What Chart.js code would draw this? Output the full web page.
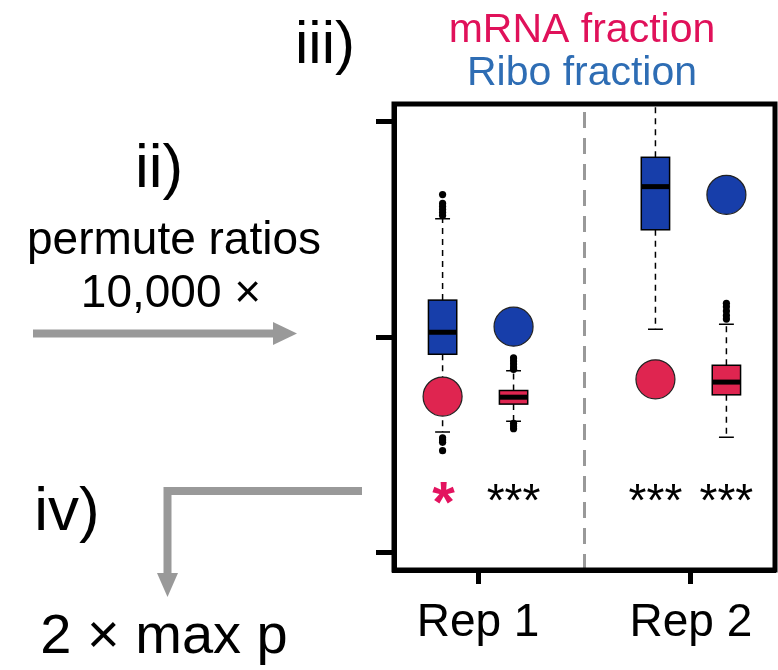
<!DOCTYPE html>
<html>
<head>
<meta charset="utf-8">
<script src="https://cdn.jsdelivr.net/npm/chart.js@4/dist/chart.umd.min.js"></script>
<style>
  html, body { margin: 0; padding: 0; background: #fff; }
  #wrap { width: 778px; height: 670px; }
</style>
</head>
<body>
<div id="wrap"><canvas id="c" width="778" height="670"></canvas></div>
<script>
// Replicates along the x axis
const reps = ['Rep 1', 'Rep 2'];
// Unlabelled y tick positions
const yTicks = [-1, 0, 1];

// Permutation (null) distributions: [lower whisker, Q1, median, Q3, upper whisker]
const riboNull = [[-0.44, -0.08, 0.022, 0.171, 0.548], [0.036, 0.497, 0.697, 0.833, 1.15]];
const mrnaNull = [[-0.391, -0.311, -0.279, -0.248, -0.157], [-0.465, -0.268, -0.209, -0.131, 0.059]];
const riboOutliers = [[0.563, 0.577, 0.591, 0.605, 0.619, 0.66, -0.467, -0.478, -0.488, -0.527], []];
const mrnaOutliers = [[-0.097, -0.111, -0.125, -0.139, -0.15, -0.40, -0.413, -0.425], [0.083, 0.1, 0.12, 0.14, 0.156]];

// Observed ratios
const mrnaObserved = [-0.276, -0.196];
const riboObserved = [0.048, 0.659];

// Significance marks, left slot then right slot per replicate
const stars = [['*', '***'], ['***', '***']];

const RED = '#DF2550';
const BLUE = '#173EAA';
const SLOT = 0.1667;
const BOX_W = 0.133;
const CAP_W = 0.07;
const FONT = '"Liberation Sans", Arial, sans-serif';

function drawBox(chart, xc, s, fill) {
  const ctx = chart.ctx, xs = chart.scales.x, ys = chart.scales.y;
  const x0 = xs.getPixelForValue(xc - BOX_W / 2), x1 = xs.getPixelForValue(xc + BOX_W / 2);
  const xm = xs.getPixelForValue(xc);
  const c0 = xs.getPixelForValue(xc - CAP_W / 2), c1 = xs.getPixelForValue(xc + CAP_W / 2);
  const [lo, q1, med, q3, hi] = s.map(v => ys.getPixelForValue(v));
  ctx.save();
  // whiskers
  ctx.strokeStyle = '#000';
  ctx.lineWidth = 1.5;
  ctx.setLineDash([6, 5]);
  ctx.beginPath();
  ctx.moveTo(xm, q3); ctx.lineTo(xm, hi);
  ctx.moveTo(xm, q1); ctx.lineTo(xm, lo);
  ctx.stroke();
  ctx.setLineDash([]);
  ctx.beginPath();
  ctx.moveTo(c0, hi); ctx.lineTo(c1, hi);
  ctx.moveTo(c0, lo); ctx.lineTo(c1, lo);
  ctx.stroke();
  // box
  ctx.fillStyle = fill;
  ctx.fillRect(x0, q3, x1 - x0, q1 - q3);
  ctx.lineWidth = 1.5;
  ctx.strokeRect(x0, q3, x1 - x0, q1 - q3);
  // median
  ctx.lineWidth = 5;
  ctx.beginPath();
  ctx.moveTo(x0, med); ctx.lineTo(x1, med);
  ctx.stroke();
  ctx.restore();
}

const boxPlugin = {
  id: 'boxes',
  beforeDatasetsDraw(chart) {
    const ctx = chart.ctx, a = chart.chartArea, xs = chart.scales.x;
    ctx.save();
    ctx.beginPath();
    ctx.rect(a.left, a.top, a.right - a.left, a.bottom - a.top);
    ctx.clip();
    // replicate divider
    const xd = xs.getPixelForValue(1.5);
    ctx.strokeStyle = '#999';
    ctx.lineWidth = 3;
    ctx.setLineDash([16, 10]);
    ctx.beginPath();
    ctx.moveTo(xd, a.bottom); ctx.lineTo(xd, a.top);
    ctx.stroke();
    ctx.setLineDash([]);
    for (let i = 0; i < reps.length; i++) {
      drawBox(chart, i + 1 - SLOT, riboNull[i], BLUE);
      drawBox(chart, i + 1 + SLOT, mrnaNull[i], RED);
    }
    ctx.restore();
  },
  afterDatasetsDraw(chart) {
    const ctx = chart.ctx, xs = chart.scales.x;
    ctx.save();
    ctx.textAlign = 'center';
    ctx.textBaseline = 'alphabetic';
    for (let i = 0; i < reps.length; i++) {
      stars[i].forEach((st, j) => {
        const x = xs.getPixelForValue(i + 1 + (j === 0 ? -SLOT : SLOT));
        if (st === '*') {
          ctx.fillStyle = '#E3135F';
          ctx.font = 'bold 58px ' + FONT;
          ctx.fillText(st, x + 1, 522);
        } else {
          ctx.fillStyle = '#000';
          ctx.font = '46px ' + FONT;
          ctx.fillText(st, x, 516);
        }
      });
    }
    ctx.restore();
  }
};

const framePlugin = {
  id: 'frame',
  afterDraw(chart) {
    const ctx = chart.ctx, a = chart.chartArea;
    ctx.save();
    ctx.strokeStyle = '#000';
    ctx.lineWidth = 5;
    ctx.lineJoin = 'miter';
    ctx.strokeRect(a.left, a.top, a.right - a.left, a.bottom - a.top);
    ctx.restore();
  }
};

function arrowHeadRight(ctx, x, y, len, half) {
  ctx.beginPath();
  ctx.moveTo(x - len, y - half); ctx.lineTo(x, y); ctx.lineTo(x - len, y + half);
  ctx.closePath(); ctx.fill();
}
function arrowHeadDown(ctx, x, y, len, half) {
  ctx.beginPath();
  ctx.moveTo(x - half, y - len); ctx.lineTo(x, y); ctx.lineTo(x + half, y - len);
  ctx.closePath(); ctx.fill();
}

// Workflow annotations around the plot
const diagramPlugin = {
  id: 'diagram',
  afterDraw(chart) {
    const ctx = chart.ctx;
    ctx.save();
    ctx.textAlign = 'center';
    ctx.textBaseline = 'alphabetic';
    ctx.fillStyle = '#000';
    ctx.font = '60px ' + FONT;
    ctx.fillText('iii)', 325, 63);
    ctx.font = '62px ' + FONT;
    ctx.fillText('ii)', 159, 187);
    ctx.font = '46px ' + FONT;
    ctx.fillText('permute ratios', 174, 254);
    ctx.fillText('10,000 \u00d7', 171, 307);
    ctx.font = '62px ' + FONT;
    ctx.fillText('iv)', 67, 530);
    ctx.font = '56px ' + FONT;
    ctx.fillText('2 \u00d7 max p', 164, 653);
    ctx.font = '41px ' + FONT;
    ctx.fillStyle = '#E0115A';
    ctx.fillText('mRNA fraction', 582, 42);
    ctx.fillStyle = '#2E6DB4';
    ctx.fillText('Ribo fraction', 582, 85);

    // arrows
    ctx.strokeStyle = '#999';
    ctx.fillStyle = '#999';
    ctx.lineWidth = 8;
    ctx.lineCap = 'butt';
    ctx.beginPath();
    ctx.moveTo(33, 333.5); ctx.lineTo(275, 333.5);
    ctx.stroke();
    arrowHeadRight(ctx, 297, 333.5, 24, 11.5);

    ctx.lineJoin = 'miter';
    ctx.beginPath();
    ctx.moveTo(362, 491); ctx.lineTo(167.5, 491); ctx.lineTo(167.5, 575);
    ctx.stroke();
    arrowHeadDown(ctx, 167.5, 597, 24, 10.5);
    ctx.restore();
  }
};

const outlierData = [];
for (let i = 0; i < reps.length; i++) {
  riboOutliers[i].forEach(v => outlierData.push({ x: i + 1 - SLOT, y: v }));
  mrnaOutliers[i].forEach(v => outlierData.push({ x: i + 1 + SLOT, y: v }));
}

new Chart(document.getElementById('c'), {
  type: 'scatter',
  data: {
    datasets: [
      {
        label: 'outliers',
        data: outlierData,
        pointRadius: 3.6,
        pointBackgroundColor: '#000',
        pointBorderWidth: 0
      },
      {
        label: 'mRNA fraction',
        data: mrnaObserved.map((v, i) => ({ x: i + 1 - SLOT, y: v })),
        pointRadius: 19.5,
        pointBackgroundColor: RED,
        pointBorderColor: '#222',
        pointBorderWidth: 1.2
      },
      {
        label: 'Ribo fraction',
        data: riboObserved.map((v, i) => ({ x: i + 1 + SLOT, y: v })),
        pointRadius: 19.5,
        pointBackgroundColor: BLUE,
        pointBorderColor: '#222',
        pointBorderWidth: 1.2
      }
    ]
  },
  options: {
    responsive: false,
    animation: false,
    devicePixelRatio: 1,
    layout: { autoPadding: false, padding: { left: 374, top: 104, right: 3, bottom: 0 } },
    plugins: { legend: { display: false }, tooltip: { enabled: false } },
    scales: {
      x: {
        type: 'linear',
        min: 0.605,
        max: 2.395,
        afterBuildTicks: s => { s.ticks = [{ value: 1 }, { value: 2 }]; },
        afterFit: s => { s.height = 100; },
        ticks: {
          callback: v => reps[v - 1],
          font: { family: FONT, size: 46 },
          color: '#000',
          padding: 12,
          maxRotation: 0
        },
        grid: { drawOnChartArea: false, tickLength: 14, tickWidth: 5, color: '#000' },
        border: { width: 5, color: '#000' }
      },
      y: {
        min: -1.08,
        max: 1.08,
        afterBuildTicks: s => { s.ticks = yTicks.map(v => ({ value: v })); },
        afterFit: s => { s.width = 20; },
        ticks: { display: false },
        grid: { drawOnChartArea: false, tickLength: 18, tickWidth: 5, color: '#000' },
        border: { width: 5, color: '#000' }
      }
    }
  },
  plugins: [boxPlugin, framePlugin, diagramPlugin]
});
</script>
</body>
</html>
